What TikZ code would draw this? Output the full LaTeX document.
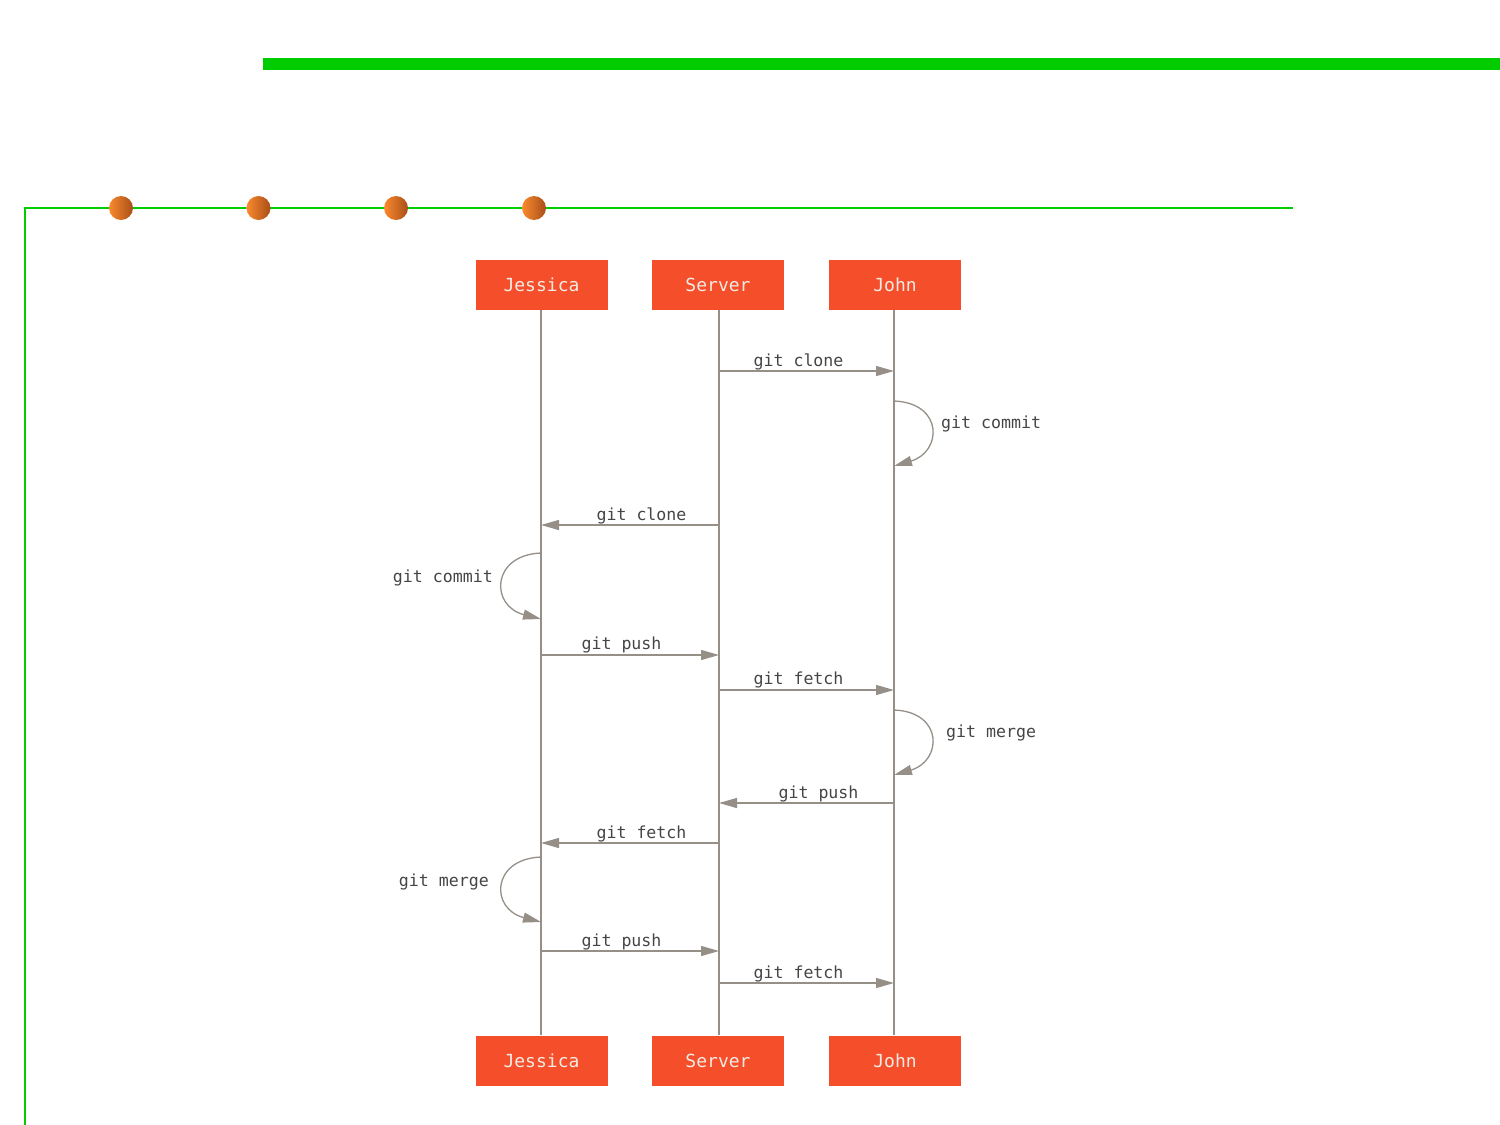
\documentclass[tikz,border=0pt]{standalone}
\usepackage{fontspec}
\newfontfamily\monofam{DejaVu Sans Mono}
\usetikzlibrary{arrows.meta}
\definecolor{gitred}{HTML}{F44F2A}
\definecolor{lifegray}{HTML}{958F88}
\definecolor{txtgray}{HTML}{454545}
\definecolor{lbltxt}{HTML}{F2EAE4}
\definecolor{brightgreen}{HTML}{00CC00}
\definecolor{ballL}{HTML}{FA8A2E}
\definecolor{ballR}{HTML}{A84E18}
\begin{document}
\begin{tikzpicture}[x=1pt,y=-1pt,
  actor/.style={fill=gitred,draw=none,minimum width=132pt,minimum height=50pt,inner sep=0pt,
    text=lbltxt,font=\monofam\fontsize{18}{20}\selectfont},
  lifeline/.style={draw=lifegray,line width=1.5pt},
  msg/.style={draw=lifegray,line width=1.3pt,-{Triangle[length=18pt,width=10pt]}},
  msglbl/.style={text=txtgray,font=\monofam\fontsize{16.6}{18}\selectfont,inner sep=0pt},
  ball/.style={circle,minimum size=24pt,inner sep=0pt,draw=none,shading=axis,left color=ballL,right color=ballR,shading angle=90}
]
\useasboundingbox (0,0) rectangle (1500,1125);
% decorations
\fill[brightgreen] (263,58) rectangle (1500,69.5);
\draw[brightgreen,line width=2pt] (25,1125) -- (25,208) -- (1293,208);
\node[ball] (b1) at (121,208) {};
\node[ball] (b2) at (258.5,208) {};
\node[ball] (b3) at (396,208) {};
\node[ball] (b4) at (534,208) {};
% actors
\node[actor] (jt) at (541.5,284.5) {Jessica};
\node[actor] (st) at (718,284.5) {Server};
\node[actor] (ot) at (895,284.5) {John};
\node[actor] (jb) at (541.5,1060.5) {Jessica};
\node[actor] (sb) at (718,1060.5) {Server};
\node[actor] (ob) at (895,1060.5) {John};
% lifelines
\def\xJ{541}\def\xS{719}\def\xO{894}
\draw[lifeline,line width=2pt] (jt.south -| \xJ,0) -- (jb.north -| \xJ,0);
\draw[lifeline] (st.south -| \xS,0) -- (sb.north -| \xS,0);
\draw[lifeline] (ot.south -| \xO,0) -- (ob.north -| \xO,0);
% message end points
\coordinate (m1a) at (\xS,371); \coordinate (m1b) at (\xO,371);
\coordinate (c1a) at (\xO,401); \coordinate (c1b) at (\xO,466);
\coordinate (m2a) at (\xS,525); \coordinate (m2b) at (\xJ,525);
\coordinate (c2a) at (\xJ,553); \coordinate (c2b) at (\xJ,619);
\coordinate (m3a) at (\xJ,655); \coordinate (m3b) at (\xS,655);
\coordinate (m4a) at (\xS,690); \coordinate (m4b) at (\xO,690);
\coordinate (c3a) at (\xO,710); \coordinate (c3b) at (\xO,775);
\coordinate (m5a) at (\xO,803); \coordinate (m5b) at (\xS,803);
\coordinate (m6a) at (\xS,843); \coordinate (m6b) at (\xJ,843);
\coordinate (c4a) at (\xJ,857); \coordinate (c4b) at (\xJ,922);
\coordinate (m7a) at (\xJ,951); \coordinate (m7b) at (\xS,951);
\coordinate (m8a) at (\xS,983); \coordinate (m8b) at (\xO,983);
% messages
\draw[msg] (m1a) -- (m1b);
\draw[msg] (c1a) .. controls (944,403) and (942,452) .. (c1b);
\draw[msg] (m2a) -- (m2b);
\draw[msg] (c2a) .. controls (491,555) and (490,606) .. (c2b);
\draw[msg] (m3a) -- (m3b);
\draw[msg] (m4a) -- (m4b);
\draw[msg] (c3a) .. controls (944,712) and (942,761) .. (c3b);
\draw[msg] (m5a) -- (m5b);
\draw[msg] (m6a) -- (m6b);
\draw[msg] (c4a) .. controls (491,859) and (490,909) .. (c4b);
\draw[msg] (m7a) -- (m7b);
\draw[msg] (m8a) -- (m8b);
% labels
\node[msglbl] (l1) at (798.5,361.5) {git clone};
\node[msglbl,anchor=west] (l2) at (941,423.5) {git commit};
\node[msglbl] (l3) at (641.5,515.5) {git clone};
\node[msglbl,anchor=east] (l4) at (493,577.5) {git commit};
\node[msglbl] (l5) at (621.5,644.5) {git push};
\node[msglbl] (l6) at (798.5,679.5) {git fetch};
\node[msglbl,anchor=west] (l7) at (946,732.5) {git merge};
\node[msglbl] (l8) at (818.5,793.5) {git push};
\node[msglbl] (l9) at (641.5,833.5) {git fetch};
\node[msglbl,anchor=east] (l10) at (489,881.5) {git merge};
\node[msglbl] (l11) at (621.5,941.5) {git push};
\node[msglbl] (l12) at (798.5,973.5) {git fetch};
\end{tikzpicture}
\end{document}
